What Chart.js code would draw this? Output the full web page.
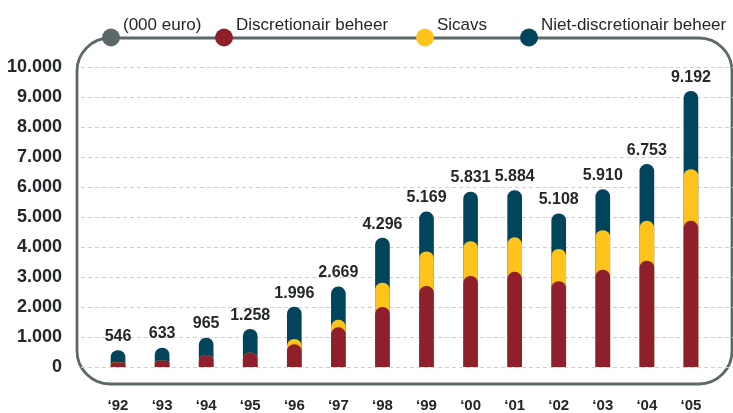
<!DOCTYPE html>
<html>
<head>
<meta charset="utf-8">
<script src="https://cdn.jsdelivr.net/npm/chart.js@4.4.1/dist/chart.umd.min.js"></script>
<style>
  html, body { margin: 0; padding: 0; background: #ffffff; }
  #wrap { width: 733px; height: 413px; position: relative; }
</style>
</head>
<body>
<div id="wrap"><canvas id="c" width="733" height="413"></canvas></div>
<script>
// ---- data ----
const categories = ['\u201892','\u201893','\u201894','\u201895','\u201896','\u201897','\u201898','\u201899','\u201800','\u201801','\u201802','\u201803','\u201804','\u201805'];
const discretionair = [140, 195, 390, 470, 750, 1310, 1990, 2690, 3020, 3160, 2850, 3230, 3530, 4860];
const sicavs        = [0, 0, 0, 0, 170, 250, 810, 1150, 1160, 1150, 1070, 1320, 1330, 1720];
const nietDiscretionair = [406, 438, 575, 788, 1076, 1109, 1496, 1329, 1651, 1574, 1188, 1360, 1893, 2612];
const seriesNames = ['Discretionair beheer', 'Sicavs', 'Niet-discretionair beheer'];
const unitLabel = '(000 euro)';
const yTicks = [0, 1000, 2000, 3000, 4000, 5000, 6000, 7000, 8000, 9000, 10000];

// ---- derived (cumulative tops for overlapping rounded bars) ----
const cumRed = discretionair.slice();
const cumYellow = discretionair.map((v, i) => v + sicavs[i]);
const totals = cumYellow.map((v, i) => v + nietDiscretionair[i]);

const COL_RED = '#8f1f2b', COL_YEL = '#fec41b', COL_BLUE = '#03445d', COL_GRAY = '#5d686a';
const TXT = '#23272a';
const FONT = '"Liberation Sans", Arial, sans-serif';
const fmt = v => v.toLocaleString('de-DE');

const framePlugin = {
  id: 'frame',
  beforeDraw(chart) {
    const ctx = chart.ctx;
    const L = 77, T = 38, R = 732, B = 384, r = 33;
    ctx.save();
    ctx.strokeStyle = COL_GRAY;
    ctx.lineWidth = 2.8;
    ctx.beginPath();
    ctx.moveTo(L + r, T);
    ctx.lineTo(R - r, T);
    ctx.arcTo(R, T, R, T + r, r);
    ctx.lineTo(R, B - r);
    ctx.arcTo(R, B, R - r, B, r);
    ctx.lineTo(L + r, B);
    ctx.arcTo(L, B, L, B - r, r);
    ctx.lineTo(L, T + r);
    ctx.arcTo(L, T, L + r, T, r);
    ctx.stroke();
    ctx.restore();
  },
  beforeDatasetsDraw(chart) {
    const ctx = chart.ctx;
    const ys = chart.scales.y;
    ctx.save();
    ctx.strokeStyle = '#cfcfcf';
    ctx.lineWidth = 1;
    ctx.setLineDash([4, 3]);
    yTicks.forEach(v => {
      const y = Math.round(ys.getPixelForValue(v)) + 0.5;
      ctx.beginPath();
      ctx.moveTo(81, y);
      ctx.lineTo(733, y);
      ctx.stroke();
    });
    ctx.restore();
  },
  afterDatasetsDraw(chart) {
    const ctx = chart.ctx;
    const meta = chart.getDatasetMeta(2);
    ctx.save();
    ctx.fillStyle = TXT;
    ctx.font = 'bold 16px ' + FONT;
    ctx.textAlign = 'center';
    ctx.textBaseline = 'middle';
    meta.data.forEach((el, i) => {
      ctx.fillText(fmt(totals[i]), el.x, el.y - 14);
    });
    ctx.restore();
  },
  afterDraw(chart) {
    const ctx = chart.ctx;
    const items = [
      { text: unitLabel, color: COL_GRAY, cx: 111 },
      { text: seriesNames[0], color: COL_RED, cx: 224 },
      { text: seriesNames[1], color: COL_YEL, cx: 425 },
      { text: seriesNames[2], color: COL_BLUE, cx: 529 }
    ];
    ctx.save();
    items.forEach(it => {
      ctx.fillStyle = it.color;
      ctx.beginPath();
      ctx.arc(it.cx, 37.5, 9, 0, Math.PI * 2);
      ctx.fill();
      ctx.fillStyle = TXT;
      ctx.font = '17px ' + FONT;
      ctx.textAlign = 'left';
      ctx.textBaseline = 'alphabetic';
      ctx.fillText(it.text, it.cx + 12, 30);
    });
    ctx.restore();
  }
};

new Chart(document.getElementById('c'), {
  type: 'bar',
  data: {
    labels: categories,
    datasets: [
      { label: seriesNames[0], data: cumRed, backgroundColor: COL_RED },
      { label: seriesNames[1], data: cumYellow, backgroundColor: COL_YEL },
      { label: seriesNames[2], data: totals, backgroundColor: COL_BLUE }
    ]
  },
  options: {
    responsive: false,
    animation: false,
    devicePixelRatio: 1,
    layout: { padding: { left: 0, right: 18, top: 67, bottom: 0 } },
    datasets: { bar: { barThickness: 14, borderRadius: 7, borderSkipped: 'start' } },
    plugins: { legend: { display: false }, tooltip: { enabled: false } },
    scales: {
      x: {
        stacked: true,
        grid: { display: false, drawTicks: false },
        border: { display: false },
        afterFit(axis) { axis.height = 46; },
        ticks: { color: TXT, padding: 31, font: { family: FONT, size: 15, weight: 'bold', lineHeight: 1 } }
      },
      y: {
        stacked: false,
        min: 0, max: 10000,
        afterBuildTicks(axis) { axis.ticks = yTicks.map(v => ({ value: v })); },
        afterFit(axis) { axis.width = 96; },
        grid: { display: false, drawTicks: false },
        border: { display: false },
        ticks: {
          color: TXT, padding: 34,
          font: { family: FONT, size: 18, weight: 'bold' },
          callback: v => fmt(v)
        }
      }
    }
  },
  plugins: [framePlugin]
});
</script>
</body>
</html>
